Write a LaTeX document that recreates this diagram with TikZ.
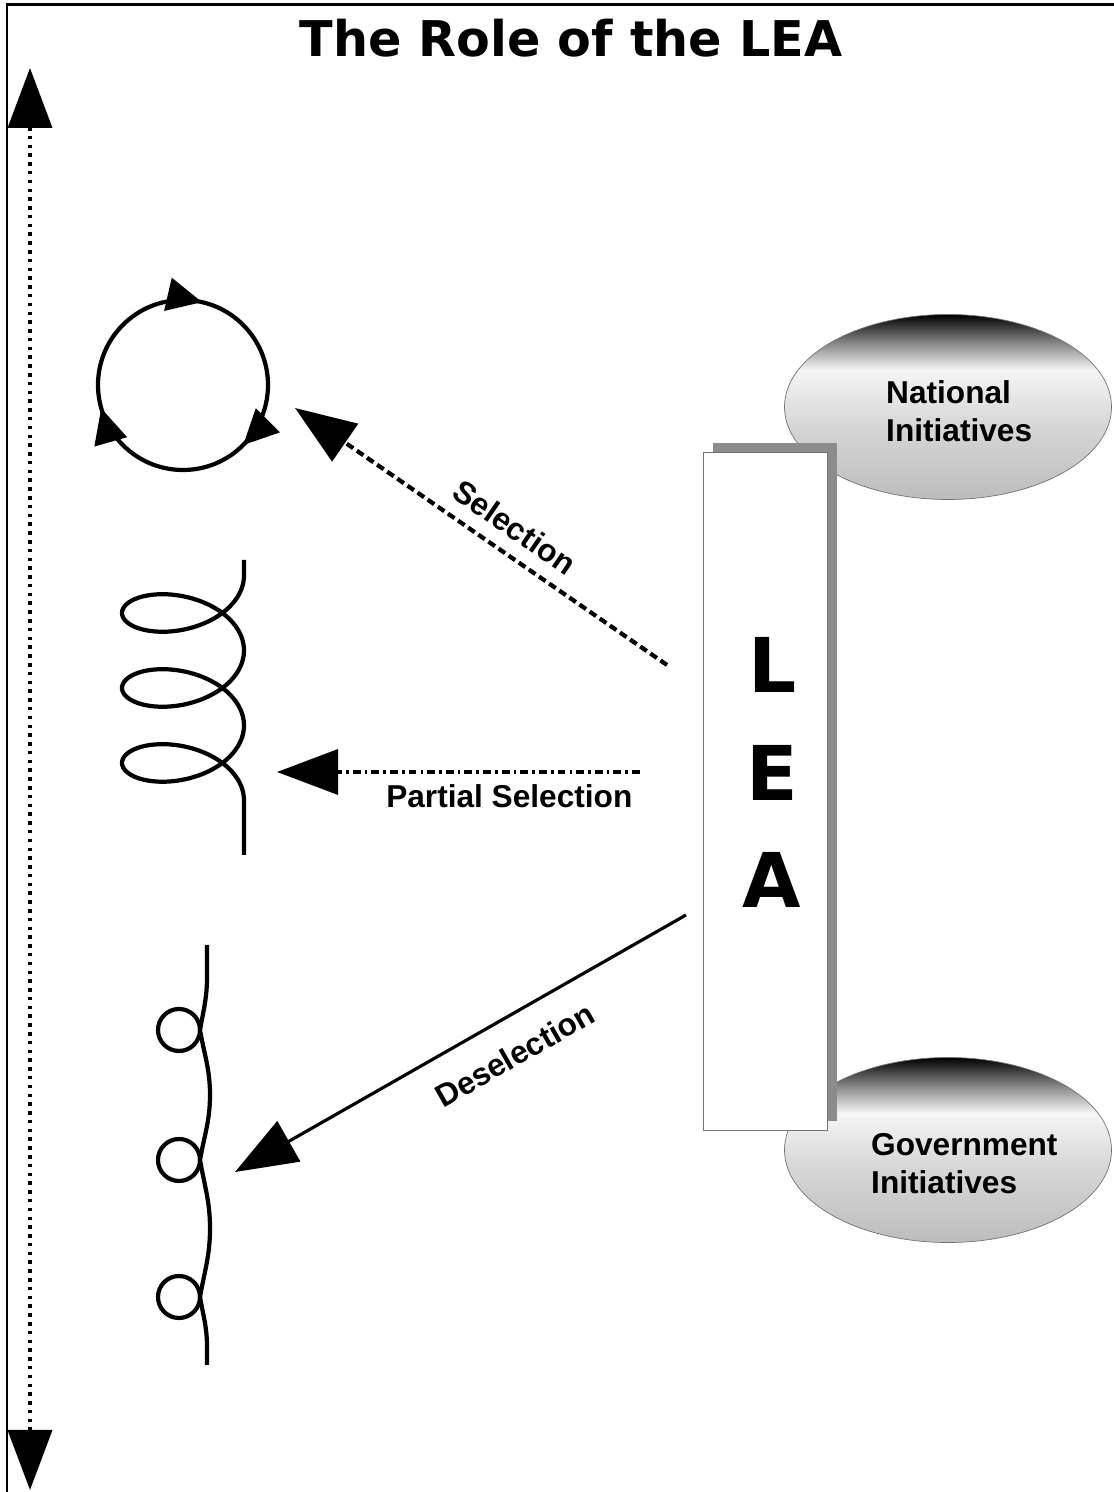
\documentclass[tikz,border=0pt]{standalone}
\usepackage{fontspec}
\setmainfont{Liberation Sans}
\newfontfamily\heavyfont{DejaVu Sans}
\usetikzlibrary{arrows.meta, decorations.markings, shapes.geometric, shadows}

\pgfdeclareverticalshading{initshade}{100bp}{color(0bp)=(black!26); color(25bp)=(black!26); color(45bp)=(black!16); color(60bp)=(black!4); color(67bp)=(black!45); color(75bp)=(black); color(100bp)=(black)}

\begin{document}
\begin{tikzpicture}[
    curve/.style={line width=2.4pt},
    lbltext/.style={font=\fontsize{18}{21.5}\selectfont\bfseries},
    letter/.style={font=\heavyfont\bfseries\fontsize{43}{43}\selectfont},
    initiative/.style={ellipse, draw=black!55, thin, shading=initshade, minimum width=6.54cm, minimum height=3.7cm},
    leabox/.style={draw=black!55, fill=white, minimum width=2.48cm, minimum height=13.56cm, inner sep=0pt,
        general shadow={fill=black!45, shadow xshift=0.19cm, shadow yshift=0.17cm}},
    bighead/.style={-{Triangle[length=1.22cm,width=0.9cm]}},
    cyclehead/.style={postaction={decorate}, decoration={markings,
        mark=at position 0.125 with {\arrow{Triangle[length=0.7cm,width=0.66cm]}},
        mark=at position 0.456 with {\arrow{Triangle[length=0.7cm,width=0.66cm]}},
        mark=at position 0.786 with {\arrow{Triangle[length=0.7cm,width=0.66cm]}}}}
]
\useasboundingbox (0,0) rectangle (22.28,29.84);

% frame and title
\draw[line width=1.7pt] (0.14,-0.5) -- (0.14,29.74) -- (23,29.74);
\node[font=\heavyfont\bfseries\fontsize{28}{30}\selectfont] (title) at (11.42,29.08) {The Role of the LEA};

% vertical scale
\coordinate (scaleTop) at (0.6,28.48);
\coordinate (scaleBot) at (0.6,0.04);
\draw[line width=2.2pt, dash pattern=on 2pt off 3pt, {Triangle[length=1.2cm,width=0.88cm]}-{Triangle[length=1.2cm,width=0.88cm]}] (scaleTop) -- (scaleBot);

% initiatives
\node[initiative] (natl) at (18.96,21.7) {};
\node[initiative] (govt) at (18.96,6.84) {};
\node[lbltext, anchor=west, align=left] (natlText) at (17.6,21.62) {National\\Initiatives};
\node[lbltext, anchor=west, align=left] (govtText) at (17.3,6.56) {Government\\Initiatives};

% LEA column
\node[leabox] (lea) at (15.3,14.02) {};
\node[letter] (leaL) at (15.46,16.54) {L};
\node[letter] (leaE) at (15.44,14.38) {E};
\node[letter] (leaA) at (15.44,12.24) {A};

% cycle
\coordinate (cycleC) at (3.66,22.14);
\draw[curve, cyclehead] (cycleC) ++(0:1.7) arc[start angle=0, end angle=-360, radius=1.7];

% spring
\coordinate (springTop) at (4.88,18.64);
\coordinate (springBot) at (4.88,12.74);
\draw[curve] (springTop) -- (4.88,18.33)
    -- plot[domain=0:1080, samples=240, smooth] ({3.66+1.22*cos(\x)}, {18.33-0.004168*\x-0.71*sin(\x)})
    -- (springBot);

% chain
\coordinate (chainTop) at (4.14,10.94);
\coordinate (chainBot) at (4.14,2.54);
\draw[curve] (chainTop) -- (4.14,10.3) to[out=-90,in=80] (4.0,9.24) to[out=-80,in=90] (4.2,7.94)
    to[out=-90,in=80] (4.0,6.64) to[out=-80,in=90] (4.2,5.27)
    to[out=-90,in=80] (4.0,3.9) to[out=-80,in=90] (4.14,2.9) -- (chainBot);
\draw[curve] (3.58,9.24) circle (0.42);
\draw[curve] (3.58,6.64) circle (0.42);
\draw[curve] (3.58,3.9) circle (0.42);

% arrows from the LEA
\coordinate (selFrom) at (13.34,16.54);
\coordinate (selTo) at (5.9,21.68);
\draw[line width=2.4pt, dash pattern=on 4.5pt off 2.5pt, bighead] (selFrom) -- (selTo)
    node[lbltext, pos=0.45, sloped, above=4pt] (selLabel) {Selection};

\coordinate (partFrom) at (12.8,14.4);
\coordinate (partTo) at (5.54,14.4);
\draw[line width=2pt, dash pattern=on 4.5pt off 2.3pt on 1.5pt off 2.3pt, bighead] (partFrom) -- (partTo)
    node[lbltext, pos=0.36, below=3pt] (partLabel) {Partial Selection};

\coordinate (deselFrom) at (13.72,11.54);
\coordinate (deselTo) at (4.7,6.4);
\draw[line width=1.8pt, -{Triangle[length=1.24cm,width=0.92cm]}] (deselFrom) -- (deselTo)
    node[lbltext, pos=0.42, sloped, below=10pt] (deselLabel) {Deselection};

\end{tikzpicture}
\end{document}
